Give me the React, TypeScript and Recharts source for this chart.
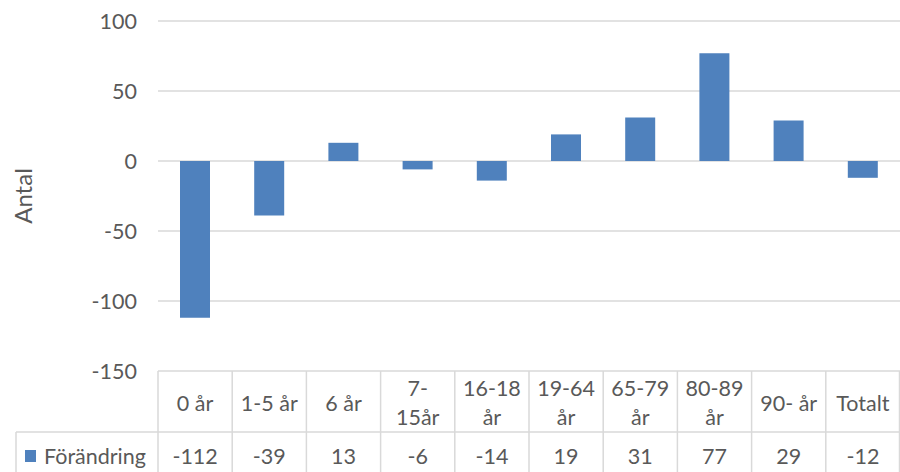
import React from 'react';
import { BarChart, Bar, XAxis, YAxis, CartesianGrid } from 'recharts';

const categories = ['0 år', '1-5 år', '6 år', '7-15år', '16-18 år', '19-64 år', '65-79 år', '80-89 år', '90- år', 'Totalt'];
const tickLabels: string[][] = [['0 år'], ['1-5 år'], ['6 år'], ['7-', '15år'], ['16-18', 'år'], ['19-64', 'år'], ['65-79', 'år'], ['80-89', 'år'], ['90- år'], ['Totalt']];
const forandring = [-112, -39, 13, -6, -14, 19, 31, 77, 29, -12];
const yTicks = [-150, -100, -50, 0, 50, 100];
const seriesName = 'Förändring';

const data = categories.map((c, i) => ({ name: c, value: forandring[i], idx: i }));

const W = 900;
const H = 472;
const PLOT_LEFT = 158;
const PLOT_TOP = 21;
const PLOT_BOTTOM = 371;
const ROW_SPLIT = 432;
const LEGEND_LEFT = 16;
const BAND = (W - PLOT_LEFT) / categories.length;
const TEXT = '#595959';
const LINE = '#D9D9D9';
const BLUE = '#4F81BD';
const FONT = 'Lato, "Open Sans", sans-serif';
const FS = 21.5;

const TableTick = (props: any) => {
  const { x, payload } = props;
  const i = payload.index;
  const left = x - BAND / 2;
  const lines = tickLabels[i];
  const headerMid = (PLOT_BOTTOM + ROW_SPLIT) / 2 + 1;
  const lh = 29;
  const startY = headerMid - ((lines.length - 1) * lh) / 2;
  return (
    <g>
      <line x1={left} y1={PLOT_BOTTOM} x2={left} y2={H} stroke={LINE} strokeWidth={1.5} />
      {i === categories.length - 1 && (
        <line x1={left + BAND - 0.5} y1={PLOT_BOTTOM} x2={left + BAND - 0.5} y2={H} stroke={LINE} strokeWidth={1.5} />
      )}
      {lines.map((ln, k) => (
        <text key={k} x={x} y={startY + k * lh} textAnchor="middle" dominantBaseline="central" fill={TEXT} fontSize={FS} fontFamily={FONT}>
          {ln}
        </text>
      ))}
      <text x={x} y={(ROW_SPLIT + H) / 2 + 4} textAnchor="middle" dominantBaseline="central" fill={TEXT} fontSize={FS} fontFamily={FONT}>
        {forandring[i]}
      </text>
      {i === 0 && (
        <g>
          <line x1={LEGEND_LEFT} y1={ROW_SPLIT} x2={W} y2={ROW_SPLIT} stroke={LINE} strokeWidth={1.5} />
          <line x1={LEGEND_LEFT} y1={ROW_SPLIT} x2={LEGEND_LEFT} y2={H} stroke={LINE} strokeWidth={1.5} />
          <rect x={25} y={450} width={11} height={12} fill={BLUE} />
          <text x={44} y={(ROW_SPLIT + H) / 2 + 4} textAnchor="start" dominantBaseline="central" fill={TEXT} fontSize={FS} fontFamily={FONT}>
            {seriesName}
          </text>
        </g>
      )}
    </g>
  );
};

export default function App() {
  return (
    <div style={{ position: 'absolute', left: 0, top: 0, width: W, height: H, background: '#fff' }}>
      <BarChart
        width={W}
        height={H}
        data={data}
        margin={{ top: PLOT_TOP, right: 0, bottom: 0, left: 0 }}
      >
        <CartesianGrid vertical={false} stroke={LINE} strokeWidth={1.5} />
        <XAxis
          dataKey="name"
          height={H - PLOT_BOTTOM}
          axisLine={false}
          tickLine={false}
          interval={0}
          tick={<TableTick />}
        />
        <YAxis
          width={PLOT_LEFT}
          domain={[-150, 100]}
          ticks={yTicks}
          axisLine={false}
          tickLine={false}
          tickSize={0}
          tickMargin={21}
          tick={{ fill: TEXT, fontSize: FS, fontFamily: FONT }}
          label={{
            content: () => (
              <text x={22} y={196} transform="rotate(-90 22 196)" textAnchor="middle" dominantBaseline="central" fill={TEXT} fontSize={24} fontFamily={FONT}>
                Antal
              </text>
            ),
          }}
        />
        <Bar dataKey="value" name={seriesName} fill={BLUE} barSize={30} isAnimationActive={false} />
      </BarChart>
    </div>
  );
}
